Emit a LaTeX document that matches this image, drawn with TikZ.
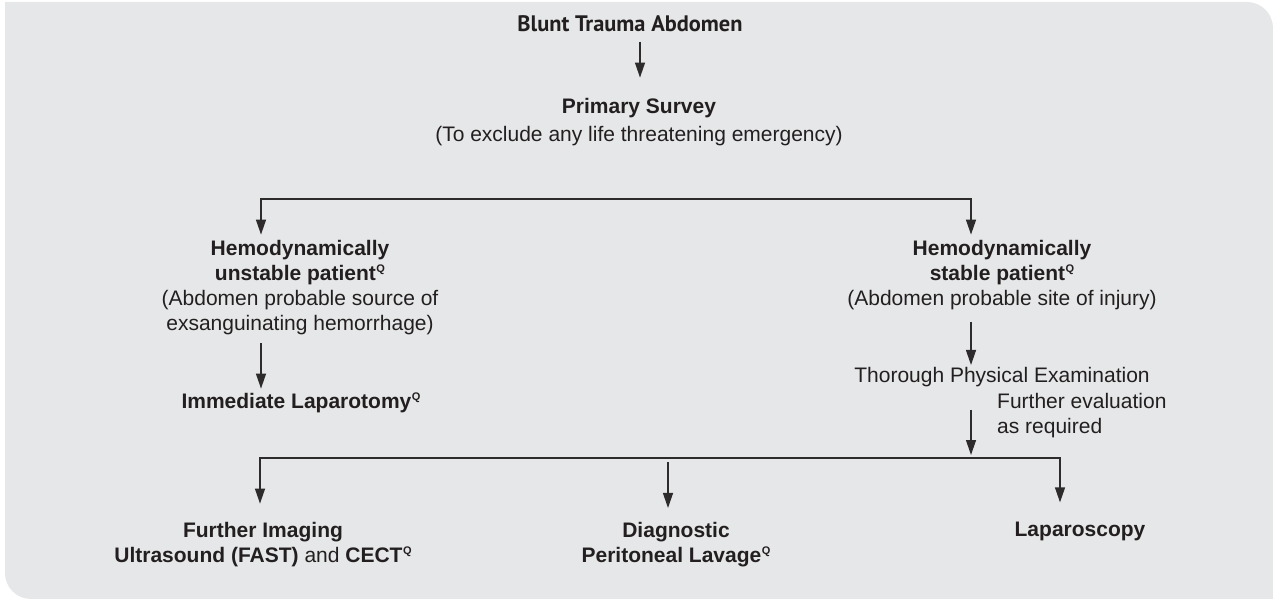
\documentclass[tikz,border=0pt]{standalone}
\usepackage{fontspec}
\setmainfont{Liberation Sans}
\newfontfamily\titlefont{PT Sans}
\usetikzlibrary{arrows.meta}
\definecolor{panel}{HTML}{E6E7E8}
\definecolor{ink}{HTML}{231F20}
\definecolor{wirec}{HTML}{2E2B2C}
% small raised bold Q marker
\newcommand{\qmark}{\kern0.5pt\raisebox{7.5pt}{\fontsize{11}{10}\selectfont\bfseries Q}}

\begin{document}
\begin{tikzpicture}[x=1pt,y=-1pt,
  txt/.style={inner sep=0pt, anchor=base, align=center, text=ink, font=\fontsize{21}{25}\selectfont},
  arr/.style={draw=wirec, line width=1.3pt, -{Triangle[length=15pt,width=10pt]}},
  wire/.style={draw=wirec, line width=1.3pt}]
\useasboundingbox (0,0) rectangle (1273,599);
% panel with two rounded corners
\fill[panel] (5,2) -- (1247,2) arc[start angle=270,end angle=360,radius=26]
  -- (1273,599) -- (31,599) arc[start angle=90,end angle=180,radius=26] -- cycle;

% nodes (multi-line nodes are placed by the baseline of their last line)
\node[txt, font=\titlefont\fontsize{22.4}{25}\selectfont\bfseries] (bta) at (630,32) {Blunt Trauma Abdomen};
\node[txt] (ps) at (639,141) {\textbf{Primary Survey}\\[3pt](To exclude any life threatening emergency)};
\node[txt] (unst) at (300,330) {\textbf{Hemodynamically}\\\textbf{unstable patient}\qmark\\(Abdomen probable source of\\exsanguinating hemorrhage)};
\node[txt] (lap) at (301,408) {\textbf{Immediate Laparotomy}\qmark};
\node[txt] (stab) at (1002,305) {\textbf{Hemodynamically}\\\textbf{stable patient}\qmark\\(Abdomen probable site of injury)};
\node[txt] (tpe) at (1002,382) {Thorough Physical Examination};
\node[txt, align=left, anchor=base west] (fe) at (997,433) {Further evaluation\\as required};
\node[txt] (fi) at (263,562) {\textbf{Further Imaging}\\\textbf{Ultrasound (FAST)} and \textbf{CECT}\qmark};
\node[txt] (dpl) at (676,562) {\textbf{Diagnostic}\\\textbf{Peritoneal Lavage}\qmark};
\node[txt] (lsc) at (1080,536) {\textbf{Laparoscopy}};

% branch points
\coordinate (btaOut) at ([xshift=10pt]bta.south);
\coordinate (sL) at (261,199);
\coordinate (sR) at (971,199);
\coordinate (jL) at (260,458);
\coordinate (jM) at (668,458);
\coordinate (jC) at (971,458);
\coordinate (jR) at (1060,458);

% connectors
\draw[arr, shorten <=9pt, shorten >=20pt] (btaOut) -- (btaOut |- ps.north);
\draw[arr, shorten >=5pt] (sR) -- (sL) -- (sL |- unst.north);
\draw[arr, shorten >=5pt] (sL) -- (sR) -- (sR |- stab.north);
\draw[arr, shorten <=8.6pt, shorten >=4pt] (unst.south -| sL) -- (lap.north -| sL);
\draw[arr, shorten <=12.6pt, shorten >=1.6pt] (stab.south -| sR) -- (tpe.north -| sR);
\draw[arr, shorten <=23.6pt, shorten >=3pt] (tpe.south -| jC) -- (jC);
\draw[arr, shorten >=18pt] (jR) -- (jL) -- (jL |- fi.north);
\draw[arr, shorten >=19pt] (jL) -- (jR) -- (jR |- lsc.north);
\draw[arr, shorten <=4pt, shorten >=13.6pt] (jM) -- (jM |- dpl.north);
\end{tikzpicture}
\end{document}
